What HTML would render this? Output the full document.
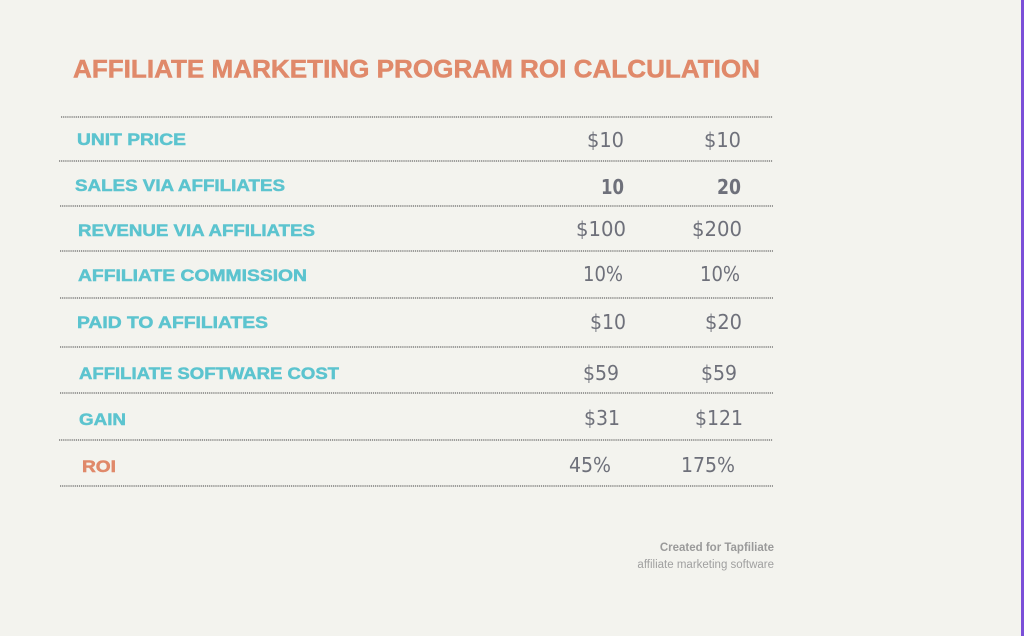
<!DOCTYPE html>
<html><head><meta charset="utf-8"><style>
html,body{margin:0;padding:0;background:#f3f3ee;width:1024px;height:636px;overflow:hidden}
svg{display:block}
.l{font-family:"Liberation Sans",sans-serif;font-weight:bold;font-size:16.5px;fill:#5cc4cf;stroke:#5cc4cf;stroke-width:0.5}
.v{font-family:"DejaVu Sans","Liberation Sans",sans-serif;font-size:20px;fill:#6e707a}
.b{font-weight:bold}
</style></head><body>
<svg width="1024" height="636" viewBox="0 0 1024 636">
<rect width="1024" height="636" fill="#f3f3ee"/>
<rect x="1021" y="0" width="3" height="636" fill="#7b4fd8"/>
<text x="73" y="77.5" font-family="Liberation Sans,sans-serif" font-weight="bold" font-size="25" fill="#e0896a" stroke="#e0896a" stroke-width="0.5" textLength="687" lengthAdjust="spacingAndGlyphs">AFFILIATE MARKETING PROGRAM ROI CALCULATION</text>
<g stroke="#666" stroke-width="1.3" stroke-dasharray="1.2 0.9">
<line x1="61" y1="117" x2="773" y2="117"/>
<line x1="59" y1="161" x2="773" y2="161"/>
<line x1="60" y1="206" x2="773" y2="206"/>
<line x1="60" y1="251" x2="773" y2="251"/>
<line x1="60" y1="298" x2="773" y2="298"/>
<line x1="60" y1="347" x2="773" y2="347"/>
<line x1="60" y1="393" x2="773" y2="393"/>
<line x1="59" y1="440" x2="773" y2="440"/>
<line x1="60" y1="486" x2="773" y2="486"/>
</g>
<text class="l" x="77" y="145" textLength="109" lengthAdjust="spacingAndGlyphs">UNIT PRICE</text>
<text class="l" x="75" y="191" textLength="210" lengthAdjust="spacingAndGlyphs">SALES VIA AFFILIATES</text>
<text class="l" x="78" y="236" textLength="237" lengthAdjust="spacingAndGlyphs">REVENUE VIA AFFILIATES</text>
<text class="l" x="78" y="281" textLength="229" lengthAdjust="spacingAndGlyphs">AFFILIATE COMMISSION</text>
<text class="l" x="77" y="328" textLength="191" lengthAdjust="spacingAndGlyphs">PAID TO AFFILIATES</text>
<text class="l" x="79" y="379" textLength="260" lengthAdjust="spacingAndGlyphs">AFFILIATE SOFTWARE COST</text>
<text class="l" x="79" y="425" textLength="47" lengthAdjust="spacingAndGlyphs">GAIN</text>
<text class="l" x="82" y="472" textLength="34" lengthAdjust="spacingAndGlyphs" style="fill:#e0896a;stroke:#e0896a">ROI</text>
<g class="v">
<text x="587" y="147" textLength="37" lengthAdjust="spacingAndGlyphs">$10</text>
<text x="704" y="147" textLength="37" lengthAdjust="spacingAndGlyphs">$10</text>
<text class="b" x="601" y="194" textLength="23" lengthAdjust="spacingAndGlyphs">10</text>
<text class="b" x="717" y="194" textLength="24" lengthAdjust="spacingAndGlyphs">20</text>
<text x="576" y="236" textLength="50" lengthAdjust="spacingAndGlyphs">$100</text>
<text x="692" y="236" textLength="50" lengthAdjust="spacingAndGlyphs">$200</text>
<text x="583" y="281" textLength="40" lengthAdjust="spacingAndGlyphs">10%</text>
<text x="700" y="281" textLength="40" lengthAdjust="spacingAndGlyphs">10%</text>
<text x="590" y="329" textLength="36" lengthAdjust="spacingAndGlyphs">$10</text>
<text x="705" y="329" textLength="37" lengthAdjust="spacingAndGlyphs">$20</text>
<text x="583" y="380" textLength="36" lengthAdjust="spacingAndGlyphs">$59</text>
<text x="701" y="380" textLength="36" lengthAdjust="spacingAndGlyphs">$59</text>
<text x="584" y="425" textLength="36" lengthAdjust="spacingAndGlyphs">$31</text>
<text x="695" y="425" textLength="48" lengthAdjust="spacingAndGlyphs">$121</text>
<text x="569" y="472" textLength="42" lengthAdjust="spacingAndGlyphs">45%</text>
<text x="681" y="472" textLength="54" lengthAdjust="spacingAndGlyphs">175%</text>
</g>
<text x="774" y="551" text-anchor="end" font-family="Liberation Sans,sans-serif" font-weight="bold" font-size="11.5" fill="#9a9a9a">Created for Tapfiliate</text>
<text x="774" y="568" text-anchor="end" font-family="Liberation Sans,sans-serif" font-size="11.5" fill="#a0a0a0">affiliate marketing software</text>
</svg>
</body></html>
